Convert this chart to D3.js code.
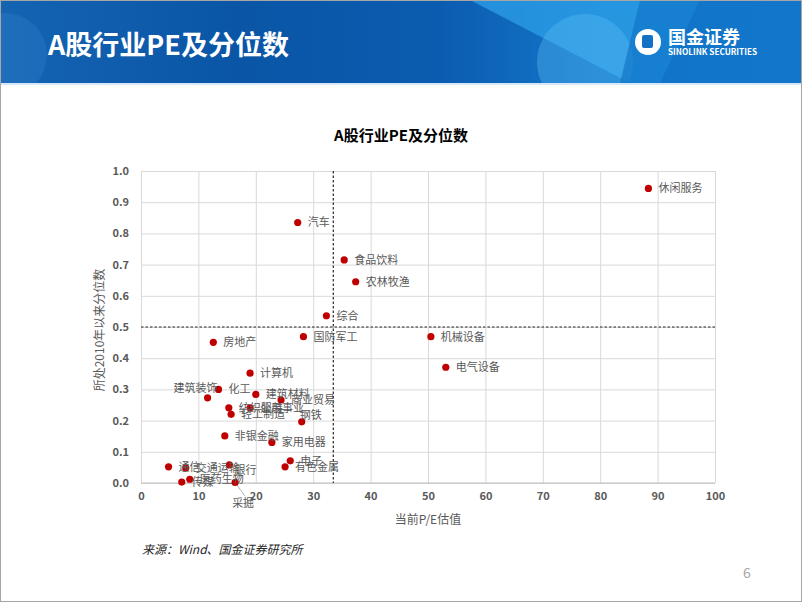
<!DOCTYPE html>
<html><head><meta charset="utf-8">
<script src="https://cdn.jsdelivr.net/npm/d3@7"></script>
<style>body{margin:0;background:#fff} svg{display:block} text{font-family:"Noto Sans CJK SC","Noto Sans",sans-serif}</style>
</head><body><svg id="c" width="802" height="602"></svg>
<script>
// ---------- data ----------
const industries = ["休闲服务","汽车","食品饮料","农林牧渔","综合","国防军工","机械设备","电气设备","房地产","计算机","化工","建筑装饰","建筑材料","商业贸易","纺织服装","公用事业","轻工制造","钢铁","非银金融","家用电器","电子","有色金属","通信","交通运输","医药生物","传媒","银行","采掘"];
const peValues    = [88.4, 27.3, 35.4, 37.4, 32.3, 28.3, 50.5, 53.1, 12.6, 19.0, 13.5, 11.6, 20.0, 24.4, 15.3, 19.0, 15.7, 28.0, 14.6, 22.8, 26.0, 25.1, 4.8, 7.8, 8.5, 7.1, 15.4, 16.4];
const percentiles = [0.944,0.835,0.715,0.645,0.536,0.469,0.469,0.371,0.451,0.352,0.300,0.273,0.284,0.266,0.241,0.241,0.220,0.196,0.151,0.130,0.071,0.052,0.052,0.048,0.012,0.003,0.058,0.002];
const xTicks = [0,10,20,30,40,50,60,70,80,90,100];
const yTicks = [0,0.1,0.2,0.3,0.4,0.5,0.6,0.7,0.8,0.9,1.0];
const peThreshold = 33.5;
const pctThreshold = 0.5;

// label placement tweaks (layout only)
const labelNudge = {
  "建筑装饰": {anchor:"end", dx:10, dy:-10},
  "钢铁": {dx:-2, dy:-7},
  "银行": {dx:5, dy:5},
  "采掘": {dx:-3, dy:21, leader:true}
};

// ---------- drawing ----------
const svg = d3.select("#c");
const W = 802, H = 602;
svg.append("rect").attr("width",W).attr("height",H).attr("fill","#fff");

// header banner
const defs = svg.append("defs");
const g1 = defs.append("linearGradient").attr("id","bg").attr("x1","0").attr("x2","1").attr("y1","0").attr("y2","0");
[[0,"#1464b2"],[0.3,"#0a55a6"],[0.55,"#0b5cb0"],[0.75,"#1478cc"],[1,"#1a82d4"]].forEach(s=>g1.append("stop").attr("offset",s[0]).attr("stop-color",s[1]));
defs.append("clipPath").attr("id","bclip").append("rect").attr("width",W).attr("height",83);
const banner = svg.append("g").attr("clip-path","url(#bclip)");
banner.append("rect").attr("width",W).attr("height",83).attr("fill","url(#bg)");
banner.append("circle").attr("cx",5).attr("cy",55).attr("r",42).attr("fill","#3a8ad6").attr("opacity",0.25);
banner.append("polygon").attr("points","470,0 700,0 660,83 630,83").attr("fill","#2fa3ea").attr("opacity",0.7);
banner.append("circle").attr("cx",585).attr("cy",62).attr("r",48).attr("fill","#5cc0f4").attr("opacity",0.35);
banner.append("polygon").attr("points","640,0 802,0 802,83 620,83").attr("fill","#0e6fc4").attr("opacity",0.6);
svg.append("rect").attr("y",83).attr("width",W).attr("height",2).attr("fill","#d6e8f7");

svg.append("text").attr("x",48).attr("y",55).attr("fill","#fff").attr("font-size",27).attr("font-weight","bold")
  .text("A股行业PE及分位数");

// logo
svg.append("circle").attr("cx",648).attr("cy",42).attr("r",13).attr("fill","#fff");
svg.append("rect").attr("x",642).attr("y",35).attr("width",11).attr("height",13).attr("rx",2).attr("fill","#1372c6");
svg.append("text").attr("x",668).attr("y",44).attr("fill","#fff").attr("font-size",18).attr("font-weight","bold").text("国金证券");
svg.append("text").attr("x",668).attr("y",55).attr("fill","#fff").attr("font-size",8.2).attr("font-weight","bold")
  .attr("font-family","'Open Sans','DejaVu Sans',sans-serif").text("SINOLINK SECURITIES");

// chart
const x = d3.scaleLinear().domain([0,100]).range([141,715]);
const y = d3.scaleLinear().domain([0,1]).range([483,171]);
const grid = "#d9d9d9", txt = "#595959";

svg.append("text").attr("x",401).attr("y",141).attr("text-anchor","middle").attr("font-size",15)
  .attr("font-weight","bold").attr("fill","#000").text("A股行业PE及分位数");

// gridlines via axes
const gx = svg.append("g").attr("transform","translate(0,483)")
  .call(d3.axisBottom(x).tickValues(xTicks).tickSize(-(483-171)).tickPadding(9).tickFormat(d3.format("d")));
gx.select(".domain").remove();
gx.selectAll(".tick line").attr("stroke",grid);
gx.selectAll(".tick text").attr("fill",txt).attr("font-size",11).attr("font-weight","bold")
  .attr("font-family","'Open Sans','Liberation Sans',sans-serif");

const gy = svg.append("g").attr("transform","translate(141,0)")
  .call(d3.axisLeft(y).tickValues(yTicks).tickSize(-(715-141)).tickPadding(12).tickFormat(d3.format(".1f")));
gy.select(".domain").remove();
gy.selectAll(".tick line").attr("stroke",grid);
gy.selectAll(".tick text").attr("fill",txt).attr("font-size",11).attr("font-weight","bold")
  .attr("font-family","'Open Sans','Liberation Sans',sans-serif");

svg.append("line").attr("x1",141).attr("x2",715).attr("y1",483).attr("y2",483).attr("stroke","#bfbfbf");

// threshold lines
svg.append("line").attr("x1",x(peThreshold)).attr("x2",x(peThreshold)).attr("y1",y(1)).attr("y2",y(0))
  .attr("stroke","#262626").attr("stroke-width",1.2).attr("stroke-dasharray","2.5,2");
svg.append("line").attr("x1",x(0)).attr("x2",x(100)).attr("y1",y(pctThreshold)).attr("y2",y(pctThreshold))
  .attr("stroke","#262626").attr("stroke-width",1.2).attr("stroke-dasharray","2.5,2");

// axis titles
svg.append("text").attr("x",428).attr("y",524).attr("text-anchor","middle").attr("font-size",12)
  .attr("fill",txt).text("当前P/E估值");
svg.append("text").attr("transform","translate(104,330) rotate(-90)").attr("text-anchor","middle").attr("font-size",12)
  .attr("fill",txt).text("所处2010年以来分位数");

// points
const data = industries.map((n,i)=>({name:n, pe:peValues[i], pct:percentiles[i]}));
const lg = svg.append("g");
data.forEach(d=>{
  const nd = labelNudge[d.name] || {};
  const px = x(d.pe), py = y(d.pct);
  if (nd.leader) {
    lg.append("line").attr("x1",px).attr("y1",py).attr("x2",px+10).attr("y2",py+14)
      .attr("stroke","#a6a6a6").attr("stroke-width",0.8);
  }
});
svg.append("g").selectAll("circle").data(data).join("circle")
  .attr("cx",d=>x(d.pe)).attr("cy",d=>y(d.pct)).attr("r",3.6).attr("fill","#c00000");
svg.append("g").selectAll("text").data(data).join("text")
  .attr("x",d=>x(d.pe)+((labelNudge[d.name]||{}).dx ?? 10))
  .attr("y",d=>y(d.pct)+((labelNudge[d.name]||{}).dy ?? 0))
  .attr("dy","0.35em")
  .attr("text-anchor",d=>(labelNudge[d.name]||{}).anchor || "start")
  .attr("font-size",11).attr("fill",txt).text(d=>d.name);

// footer
svg.append("text").attr("x",142).attr("y",554).attr("font-size",12).attr("font-style","italic")
  .attr("fill","#262626").text("来源：Wind、国金证券研究所");
svg.append("text").attr("x",747).attr("y",578).attr("text-anchor","middle").attr("font-size",14)
  .attr("fill","#a6a6a6").text("6");

// frame
svg.append("rect").attr("x",0.5).attr("y",0.5).attr("width",W-1).attr("height",H-1)
  .attr("fill","none").attr("stroke","#a6a6a6");
</script></body></html>
